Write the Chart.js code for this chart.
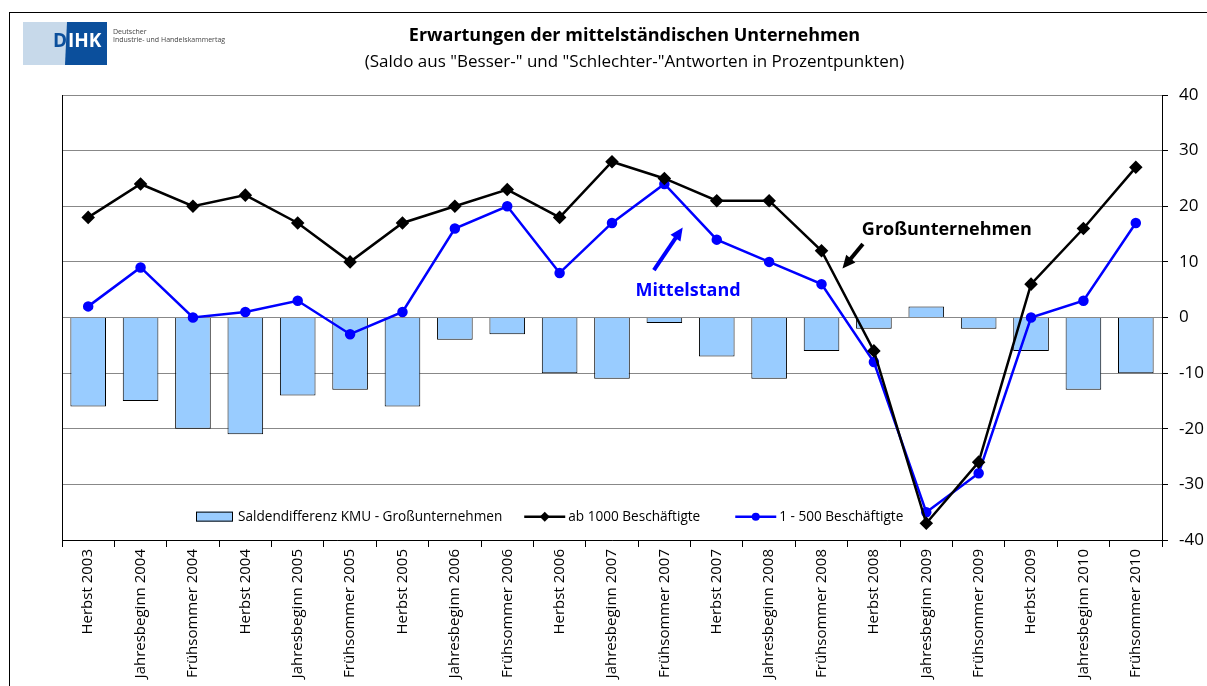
<!DOCTYPE html>
<html>
<head>
<meta charset="utf-8">
<script src="https://cdn.jsdelivr.net/npm/chart.js@4/dist/chart.umd.min.js"></script>
<style>
  html, body { margin: 0; padding: 0; background: #fff; }
  #wrap { width: 1207px; height: 686px; overflow: hidden; }
</style>
</head>
<body>
<div id="wrap"><canvas id="chart" width="1207" height="686"></canvas></div>
<script>
// Umfrage-Zeitpunkte
const labels = [
  'Herbst 2003', 'Jahresbeginn 2004', 'Frühsommer 2004', 'Herbst 2004',
  'Jahresbeginn 2005', 'Frühsommer 2005', 'Herbst 2005', 'Jahresbeginn 2006',
  'Frühsommer 2006', 'Herbst 2006', 'Jahresbeginn 2007', 'Frühsommer 2007',
  'Herbst 2007', 'Jahresbeginn 2008', 'Frühsommer 2008', 'Herbst 2008',
  'Jahresbeginn 2009', 'Frühsommer 2009', 'Herbst 2009', 'Jahresbeginn 2010',
  'Frühsommer 2010'
];
// ab 1000 Beschäftigte
const gross = [18, 24, 20, 22, 17, 10, 17, 20, 23, 18, 28, 25, 21, 21, 12, -6, -37, -26, 6, 16, 27];
// 1 - 500 Beschäftigte
const mittel = [2, 9, 0, 1, 3, -3, 1, 16, 20, 8, 17, 24, 14, 10, 6, -8, -35, -28, 0, 3, 17];
// Saldendifferenz KMU - Großunternehmen
const diff = [-16, -15, -20, -21, -14, -13, -16, -4, -3, -10, -11, -1, -7, -11, -6, -2, 2, -2, -6, -13, -10];
const yTicks = [-40, -30, -20, -10, 0, 10, 20, 30, 40];

const FONT = '"Open Sans", "Noto Sans", sans-serif';

function arrow(ctx, x1, y1, x2, y2, color) {
  const a = Math.atan2(y2 - y1, x2 - x1);
  ctx.save();
  ctx.strokeStyle = color; ctx.fillStyle = color; ctx.lineWidth = 4;
  ctx.beginPath();
  ctx.moveTo(x1, y1);
  ctx.lineTo(x2 - 8 * Math.cos(a), y2 - 8 * Math.sin(a));
  ctx.stroke();
  ctx.beginPath();
  ctx.moveTo(x2, y2);
  ctx.lineTo(x2 - 13 * Math.cos(a) + 6 * Math.sin(a), y2 - 13 * Math.sin(a) - 6 * Math.cos(a));
  ctx.lineTo(x2 - 13 * Math.cos(a) - 6 * Math.sin(a), y2 - 13 * Math.sin(a) + 6 * Math.cos(a));
  ctx.closePath();
  ctx.fill();
  ctx.restore();
}

const decor = {
  id: 'decor',
  beforeDraw(chart) {
    const ctx = chart.ctx;
    ctx.save();
    // Rahmen
    ctx.strokeStyle = '#000'; ctx.lineWidth = 1;
    ctx.strokeRect(9.5, 12.5, 1400, 900);
    // Logo
    ctx.fillStyle = '#c7d9ea';
    ctx.fillRect(23, 22, 46, 43);
    ctx.fillStyle = '#0b4f9c';
    ctx.beginPath();
    ctx.moveTo(67, 22); ctx.lineTo(107, 22); ctx.lineTo(107, 65); ctx.lineTo(65, 65);
    ctx.closePath(); ctx.fill();
    ctx.font = 'bold 19px ' + FONT;
    ctx.textBaseline = 'middle';
    ctx.fillStyle = '#0b4f9c';
    ctx.fillText('D', 53, 42);
    ctx.fillStyle = '#fff';
    ctx.fillText('IHK', 68, 42);
    ctx.fillStyle = '#444';
    ctx.font = '7px ' + FONT;
    ctx.fillText('Deutscher', 113, 32);
    ctx.fillText('Industrie- und Handelskammertag', 113, 40);
    ctx.restore();
  },
  afterDraw(chart) {
    const ctx = chart.ctx;
    const a = chart.chartArea;
    const x = chart.scales.x, y = chart.scales.y;
    ctx.save();
    // linker Rand
    ctx.strokeStyle = '#000'; ctx.lineWidth = 1;
    ctx.beginPath();
    ctx.moveTo(a.left + 0.5, a.top); ctx.lineTo(a.left + 0.5, a.bottom);
    ctx.stroke();

    // Beschriftungen im Diagramm
    ctx.font = 'bold 18px ' + FONT;
    ctx.textBaseline = 'middle';
    ctx.fillStyle = '#000';
    ctx.fillText('Großunternehmen', x.getPixelForValue(14.77), y.getPixelForValue(15.8));
    arrow(ctx, x.getPixelForValue(14.79), y.getPixelForValue(13.2), x.getPixelForValue(14.4), y.getPixelForValue(8.8), '#000');
    ctx.fillStyle = '#0000ff';
    ctx.fillText('Mittelstand', x.getPixelForValue(10.45), y.getPixelForValue(4.7));
    arrow(ctx, x.getPixelForValue(10.8), y.getPixelForValue(8.5), x.getPixelForValue(11.35), y.getPixelForValue(16.2), '#0000ff');

    // Legende
    const ly = y.getPixelForValue(-35.8);
    ctx.font = '13.6px ' + FONT;
    ctx.textBaseline = 'middle';
    let lx = a.left + 134;
    ctx.fillStyle = '#99ccff';
    ctx.fillRect(lx, ly - 5, 37, 10);
    ctx.strokeStyle = '#000'; ctx.lineWidth = 1;
    ctx.strokeRect(lx + 0.5, ly - 4.5, 36, 9);
    lx += 42;
    ctx.fillStyle = '#000';
    ctx.fillText('Saldendifferenz KMU - Großunternehmen', lx, ly);
    lx += ctx.measureText('Saldendifferenz KMU - Großunternehmen').width + 22;
    ctx.lineWidth = 2.5;
    ctx.beginPath(); ctx.moveTo(lx, ly); ctx.lineTo(lx + 41, ly); ctx.stroke();
    ctx.beginPath();
    ctx.moveTo(lx + 20.5, ly - 5); ctx.lineTo(lx + 25.5, ly); ctx.lineTo(lx + 20.5, ly + 5); ctx.lineTo(lx + 15.5, ly);
    ctx.closePath(); ctx.fill();
    lx += 44;
    ctx.fillText('ab 1000 Beschäftigte', lx, ly);
    lx += ctx.measureText('ab 1000 Beschäftigte').width + 35;
    ctx.strokeStyle = '#0000ff'; ctx.fillStyle = '#0000ff';
    ctx.beginPath(); ctx.moveTo(lx, ly); ctx.lineTo(lx + 41, ly); ctx.stroke();
    ctx.beginPath(); ctx.arc(lx + 20.5, ly, 4, 0, Math.PI * 2); ctx.fill();
    lx += 44;
    ctx.fillStyle = '#000';
    ctx.fillText('1 - 500 Beschäftigte', lx, ly);
    ctx.restore();
  }
};

new Chart(document.getElementById('chart'), {
  type: 'bar',
  data: {
    labels,
    datasets: [
      {
        type: 'line', label: 'ab 1000 Beschäftigte', data: gross, order: 1,
        borderColor: '#000', backgroundColor: '#000', borderWidth: 2.5,
        pointStyle: 'rectRot', pointRadius: 5, tension: 0
      },
      {
        type: 'line', label: '1 - 500 Beschäftigte', data: mittel, order: 2,
        borderColor: '#0000ff', backgroundColor: '#0000ff', borderWidth: 2.5,
        pointStyle: 'circle', pointRadius: 4, tension: 0
      },
      {
        label: 'Saldendifferenz KMU - Großunternehmen', data: diff, order: 3,
        backgroundColor: '#99ccff', borderColor: '#000', borderWidth: 1,
        barPercentage: 0.68, categoryPercentage: 1
      }
    ]
  },
  options: {
    responsive: false,
    animation: false,
    devicePixelRatio: 1,
    layout: { padding: { left: 62, right: 0, top: 0, bottom: 0 } },
    plugins: {
      legend: { display: false },
      tooltip: { enabled: false },
      title: {
        display: true,
        text: 'Erwartungen der mittelständischen Unternehmen',
        color: '#000',
        font: { family: FONT, size: 18, weight: 'bold' },
        padding: { top: 25, bottom: 0 }
      },
      subtitle: {
        display: true,
        text: '(Saldo aus "Besser-" und "Schlechter-"Antworten in Prozentpunkten)',
        color: '#000',
        font: { family: FONT, size: 17 },
        padding: { top: 5, bottom: 23 }
      }
    },
    scales: {
      x: {
        grid: { offset: true, drawOnChartArea: false, color: '#000', tickLength: 7 },
        border: { color: '#000' },
        ticks: {
          color: '#000', font: { family: FONT, size: 15 },
          minRotation: 90, maxRotation: 90, autoSkip: false, padding: 2
        },
        afterFit(scale) { scale.height = 146; }
      },
      y: {
        position: 'right',
        min: -40, max: 40,
        afterBuildTicks(scale) { scale.ticks = yTicks.map(v => ({ value: v })); },
        grid: { color: '#888', tickColor: '#000', tickLength: 6 },
        border: { color: '#000' },
        ticks: { color: '#000', font: { family: FONT, size: 17 }, padding: 11 },
        afterFit(scale) { scale.width = 45; }
      }
    }
  },
  plugins: [decor]
});
</script>
</body>
</html>
